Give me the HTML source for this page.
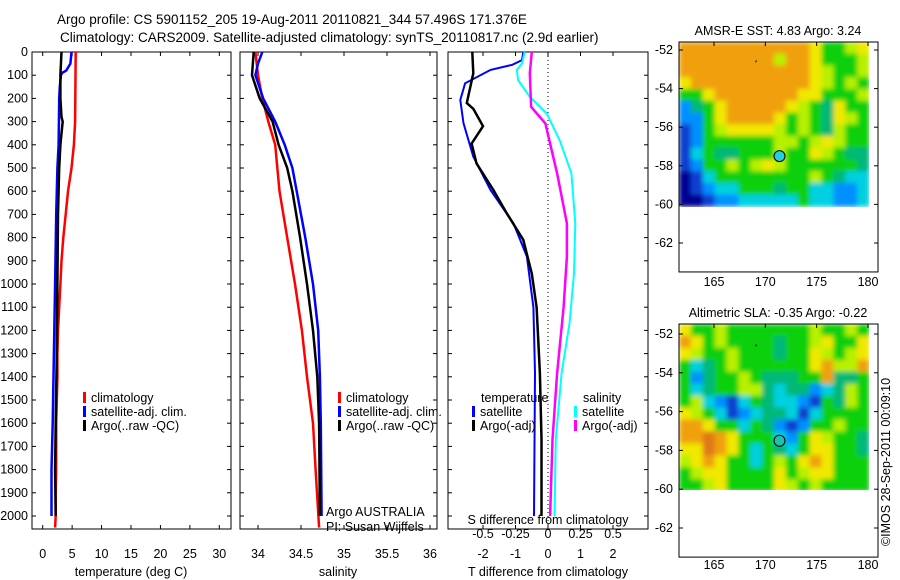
<!DOCTYPE html>
<html><head><meta charset="utf-8"><style>
body{margin:0;background:#fff}
svg{display:block;font-family:"Liberation Sans",Arial,sans-serif}
text{font-size:12.5px;fill:#000}
</style></head><body>
<svg id="fig" width="900" height="580" viewBox="0 0 900 580">
<defs>
<filter id="blur" x="0" y="0" width="1" height="1"><feGaussianBlur stdDeviation="2.5" edgeMode="duplicate"/></filter>
<clipPath id="c1"><rect x="679" y="42" width="190" height="165"/></clipPath>
<clipPath id="c2"><rect x="679" y="324" width="190" height="166"/></clipPath>
</defs>
<text x="57" y="24" style="font-size:13.5px">Argo profile: CS 5901152_205 19-Aug-2011 20110821_344 57.496S 171.376E</text>
<text x="60" y="42" style="font-size:13.5px">Climatology: CARS2009. Satellite-adjusted climatology: synTS_20110817.nc (2.9d earlier)</text>
<g id="p1"></g>
<g id="p2"></g>
<g id="p3"></g>
<g id="m1"></g>
<g id="m2"></g>
<text transform="translate(890,462) rotate(-90)" text-anchor="middle">©IMOS 28-Sep-2011 00:09:10</text>
</svg>
<script>
// ---- data ----
const depthTicks=[0,100,200,300,400,500,600,700,800,900,1000,1100,1200,1300,1400,1500,1600,1700,1800,1900,2000];
const climTDepth=[0,300,400,500,600,700,800,900,1000,1100,1200,1300,1400,1500,1600,1700,1800,1900,2000,2050];
const climT=[5.6,5.5,5.3,4.9,4.3,3.9,3.5,3.2,3.0,2.8,2.6,2.5,2.5,2.4,2.3,2.3,2.3,2.2,2.2,2.1];
const satTDepth=[0,50,80,90,100,150,200,400,500,700,1000,1300,1600,1800,2000];
const satT=[4.9,4.7,4.0,3.3,3.1,2.9,2.8,2.7,2.5,2.3,2.1,1.9,1.7,1.5,1.5];
const argoTDepth=[0,100,200,280,300,350,400,500,700,1000,1300,1600,1800,2000];
const argoT=[3.2,3.0,3.0,3.2,3.4,3.2,3.0,2.8,2.6,2.5,2.4,2.2,2.1,2.2];
const climSDepth=[0,100,200,300,400,600,800,1000,1200,1400,1600,1800,2050];
const climS=[33.97,34.0,34.05,34.12,34.2,34.25,34.34,34.43,34.51,34.57,34.64,34.67,34.71];
const satSDepth=[0,50,100,200,300,400,500,600,800,1000,1200,1400,1600,2000];
const satS=[34.05,34.0,33.97,34.06,34.2,34.31,34.4,34.45,34.55,34.64,34.7,34.72,34.73,34.74];
const argoSDepth=[0,100,200,300,400,500,600,800,1000,1200,1400,1600,2000];
const argoS=[33.95,33.93,34.02,34.17,34.24,34.34,34.4,34.49,34.57,34.64,34.69,34.71,34.72];
const dTSatDepth=[0,35,55,77,135,207,307,451,595,739,882,1100,1385,2000];
const dTSat=[-0.76,-0.8,-1.1,-1.77,-2.55,-2.7,-2.6,-2.3,-1.77,-1.06,-0.65,-0.45,-0.4,-0.43];
const dTArgoDepth=[0,92,220,245,320,395,480,595,695,810,955,1100,1385,1670,2000];
const dTArgo=[-2.33,-2.3,-2.5,-2.3,-2.0,-2.35,-2.2,-1.68,-1.27,-0.76,-0.5,-0.35,-0.25,-0.2,-0.2];
const dSSatDepth=[0,49,77,121,193,265,380,523,739,955,1170,1385,1670,2000];
const dSSat=[-0.18,-0.2,-0.24,-0.23,-0.14,-0.01,0.09,0.18,0.21,0.2,0.165,0.105,0.06,0.05];
const dSArgoDepth=[0,92,236,308,380,523,739,882,1100,1385,1670,2000];
const dSArgo=[-0.125,-0.14,-0.13,-0.02,0.01,0.07,0.145,0.145,0.12,0.07,0.035,0.016];
const tTicks=[0,5,10,15,20,25,30];
const sTicks=[34,34.5,35,35.5,36];
const dtTicks=[-2,-1,0,1,2];
const dsTicks=[-0.5,-0.25,0,0.25,0.5];
const dsTickLabels=['-0.5','-0.25','0','0.25','0.5'];
const latTicks=[-52,-54,-56,-58,-60,-62];
const lonTicks=[165,170,175,180];
const sstGrid=["OOOOOOOOOOOYGGLY","OOOOOOOOLOOYGGGL","OOOOOOOOOOOYLGGL","YOOOOOOOOOOYLGLG","GGYOOOOOOOYYGGGL","BTGYOOOOOYLGTYGG","BBGYOOOOYGLGTYLG","DBGLYYYYLGLGTLGG","DBGGGGGGLLGLYLGG","DCGTTGGGLGGYLGTT","DBGGLGLYLGGGGGGT","NDCGGGGGGGGLGTCC","NDBCCGGGTGGCCBBC","NNDBBCCCCCGCCBBC"];
const slaGrid=["YGGLGGGGGGGLGGLG","OYGLGGGGTGGLYGGY","YLGGLGGGTGGYLGLY","GCTGLGGGGGGYOLLO","GBTGGLGTTTGGOTTG","GCTGGLLTCTTBCTLG","GLCBDCGTCCBDGTLG","YLGCDBCTTCDCGGGG","OOYGGCGTBDBGGLGG","OOROYGGGCBGYLGGT","YYROYGCGTCGYYGGT","LYOYGGCGLGYOYGGG","GLYYGGGGYGLYYGGG","GGLYGGGGYLGLGGGG"];
const argoLon=171.38, argoLat=-57.5;
// ---- helpers ----
const NS="http://www.w3.org/2000/svg";
function mk(p,t,a){const e=document.createElementNS(NS,t);for(const k in a)e.setAttribute(k,a[k]);p.appendChild(e);return e;}
const Y0=52,Y1=529,dy=d=>Y0+d*(516-Y0)/2000;
function panel(g,x0,x1,xs,ticks,fmt,showY,name){
  const b=mk(g,'rect',{x:x0,y:Y0,width:x1-x0,height:Y1-Y0,fill:'none',stroke:'#000'});
  
  depthTicks.forEach(d=>{const y=dy(d);
    mk(g,'line',{x1:x0,x2:x0+4,y1:y,y2:y,stroke:'#000'});mk(g,'line',{x1:x1-4,x2:x1,y1:y,y2:y,stroke:'#000'});
    if(showY){const t=mk(g,'text',{x:28,y:y+4,'text-anchor':'end'});t.textContent=d;
      }});
  ticks.forEach(v=>{const x=xs(v);mk(g,'line',{x1:x,x2:x,y1:Y1,y2:Y1-4,stroke:'#000'});mk(g,'line',{x1:x,x2:x,y1:Y0,y2:Y0+4,stroke:'#000'});
    const t=mk(g,'text',{x:x,y:558,'text-anchor':'middle'});t.textContent=fmt(v);
    });
}
function line(g,xs,vals,deps,col,name,w){
  const pts=vals.map((v,i)=>xs(v).toFixed(1)+','+dy(deps[i]).toFixed(1)).join(' ');
  const e=mk(g,'polyline',{points:pts,fill:'none',stroke:col,'stroke-width':w||2.5});
  
}
function label(g,x,y,s,name,anchor){const t=mk(g,'text',{x:x,y:y,'text-anchor':anchor||'start'});t.textContent=s;
  return t;}
function leg(g,x,y,col,s,name){mk(g,'rect',{x:x,y:y-10,width:3,height:11,fill:col});label(g,x+8,y,s,name);}
// panel 1
const p1=document.getElementById('p1');const xT=v=>42.7+v*(219.3-42.7)/30;
panel(p1,32,231,xT,tTicks,v=>v,true,'temperature');
line(p1,xT,climT,climTDepth,'#f00','climatology-temperature-line');
line(p1,xT,satT,satTDepth,'#00f','satellite-temperature-line');
line(p1,xT,argoT,argoTDepth,'#000','argo-temperature-line');
label(p1,131,576,'temperature (deg C)','x-axis-title-temperature','middle');
leg(p1,83,402,'#f00','climatology','legend-climatology');
leg(p1,83,416,'#00f','satellite-adj. clim.','legend-satellite');
leg(p1,83,430,'#000','Argo(..raw -QC)','legend-argo');
// panel 2
const p2=document.getElementById('p2');const xS=v=>258+(v-34)*86;
panel(p2,240,437,xS,sTicks,v=>v,false,'salinity');
line(p2,xS,climS,climSDepth,'#f00','climatology-salinity-line');
line(p2,xS,satS,satSDepth,'#00f','satellite-salinity-line');
line(p2,xS,argoS,argoSDepth,'#000','argo-salinity-line');
label(p2,338,576,'salinity','x-axis-title-salinity','middle');
leg(p2,338,402,'#f00','climatology','legend-climatology');
leg(p2,338,416,'#00f','satellite-adj. clim.','legend-satellite');
leg(p2,338,430,'#000','Argo(..raw -QC)','legend-argo');
label(p2,326,516,'Argo AUSTRALIA','argo-australia-label');
label(p2,326,531,'PI: Susan Wijffels','pi-label');
// panel 3
const p3=document.getElementById('p3');const xD=v=>548+v*32.5;const xDS=v=>548+v*130;
panel(p3,448,648,xD,dtTicks,v=>v,false,'t-difference');
mk(p3,'line',{x1:548,x2:548,y1:Y0,y2:Y1,stroke:'#000','stroke-dasharray':'1,3'});
line(p3,xD,dTSat,dTSatDepth,'#00f','satellite-t-diff-line',2);
line(p3,xD,dTArgo,dTArgoDepth,'#000','argo-t-diff-line',2.5);
line(p3,xDS,dSSat,dSSatDepth,'#0ff','satellite-s-diff-line',2);
line(p3,xDS,dSArgo,dSArgoDepth,'#f0f','argo-s-diff-line',2.5);
dsTicks.forEach((v,i)=>label(p3,xDS(v),538,dsTickLabels[i],'s-diff-tick-label','middle'));
label(p3,548,524,'S difference from climatology','s-diff-axis-title','middle');
label(p3,548,576,'T difference from climatology','t-diff-axis-title','middle');
label(p3,481,402,'temperature','legend-temperature-heading');
leg(p3,472,416,'#00f','satellite','legend-t-satellite');
leg(p3,472,430,'#000','Argo(-adj)','legend-t-argo');
label(p3,583,402,'salinity','legend-salinity-heading');
leg(p3,574,416,'#0ff','satellite','legend-s-satellite');
leg(p3,574,430,'#f0f','Argo(-adj)','legend-s-argo');
// maps
const COL={O:'#f0a010',Y:'#f0e800',L:'#b8f000',G:'#10d010',T:'#00b878',C:'#00d0e0',B:'#0090ff',D:'#1040d0',N:'#000090',R:'#e07818'};
function map(id,top,lat52,lat62,grid,title,labY,clip){
  const g=document.getElementById(id);
  const lx=v=>714+(v-165)*(868-714)/15, ly=v=>lat52+(v+52)*(lat62-lat52)/-10;
  const ix0=679,ix1=869,iy0=top,iy1=ly(-60.1);
  const cw=(ix1-ix0)/grid[0].length,ch=(iy1-iy0)/grid.length;
  const cg=mk(g,'g',{'clip-path':'url(#'+clip+')'});
  const fg=mk(cg,'g',{filter:'url(#blur)'});
  grid.forEach((r,i)=>[...r].forEach((c,j)=>mk(fg,'rect',{x:ix0+j*cw,y:iy0+i*ch,width:cw+0.5,height:ch+0.5,fill:COL[c]})));
  const f=mk(g,'rect',{x:679,y:top,width:199,height:ly(-63.5)-top,fill:'none',stroke:'#000'});
  
  latTicks.forEach(v=>{const y=ly(v);mk(g,'line',{x1:679,x2:683,y1:y,y2:y,stroke:'#000'});mk(g,'line',{x1:874,x2:878,y1:y,y2:y,stroke:'#000'});
    label(g,673,y+4,v,'latitude-tick-label','end');});
  lonTicks.forEach(v=>{const x=lx(v);mk(g,'line',{x1:x,x2:x,y1:top,y2:top+4,stroke:'#000'});
    label(g,x,labY,v,'longitude-tick-label','middle');});
  mk(g,'circle',{cx:lx(argoLon),cy:ly(argoLat),r:5.5,fill:id=='m1'?'#20d0e0':'#20c0b0',stroke:'#000'});
  label(g,778,top-7,title,'map-title','middle');
  mk(g,'path',{d:`M${lx(169)} ${ly(-52.6)} l2 -2 l-1 3z`,fill:'#000'});
}
map('m1',42,50,243,sstGrid,'AMSR-E SST: 4.83  Argo: 3.24',286,'c1');
map('m2',324,334,528,slaGrid,'Altimetric SLA: -0.35  Argo: -0.22',569,'c2');
</script>
</body></html>
